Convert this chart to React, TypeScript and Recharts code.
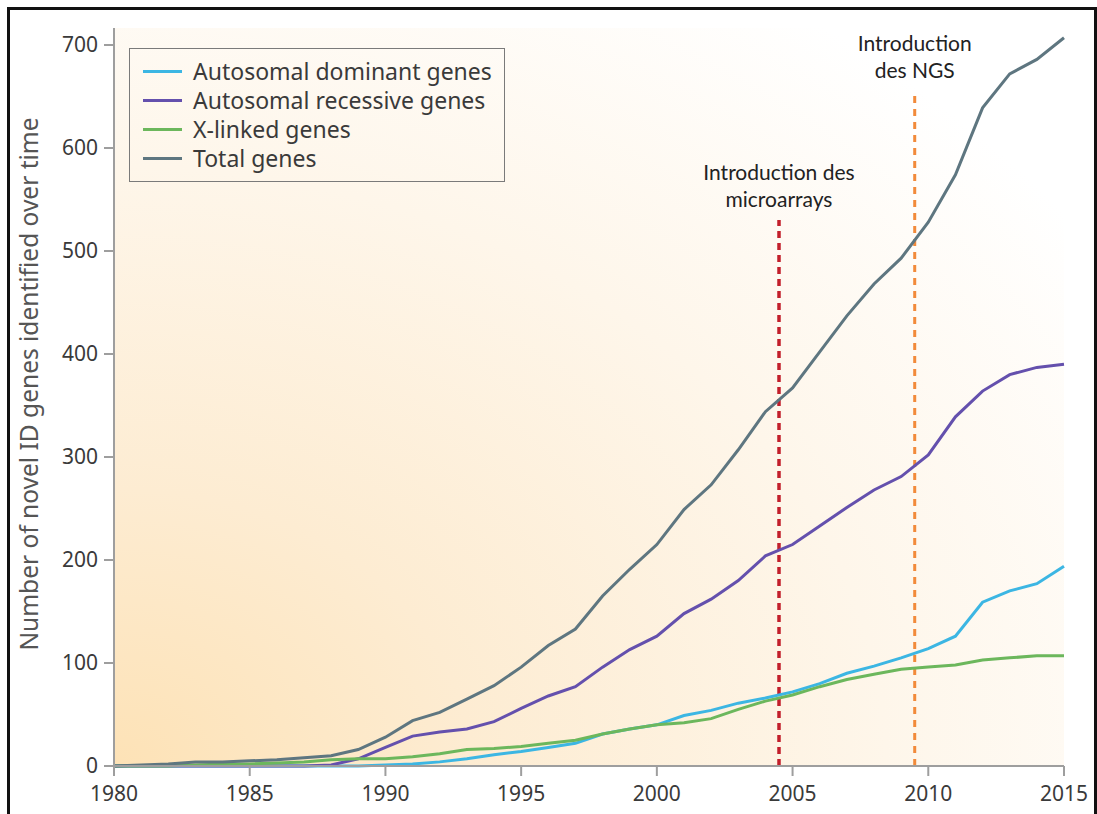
import { LineChart, Line, XAxis, YAxis, CartesianGrid, Legend, ReferenceLine } from 'recharts';

const years = [
  1980, 1981, 1982, 1983, 1984, 1985, 1986, 1987, 1988, 1989,
  1990, 1991, 1992, 1993, 1994, 1995, 1996, 1997, 1998, 1999,
  2000, 2001, 2002, 2003, 2004, 2005, 2006, 2007, 2008, 2009,
  2010, 2011, 2012, 2013, 2014, 2015,
];
const dominant = [
  0, 0, 0, 0, 0, 0, 0, 0, 0, 0,
  1, 2, 4, 7, 11, 14, 18, 22, 31, 36,
  40, 49, 54, 61, 66, 72, 80, 90, 97, 105,
  114, 126, 159, 170, 177, 194,
];
const recessive = [
  0, 0, 0, 0, 0, 0, 0, 0, 1, 7,
  18, 29, 33, 36, 43, 56, 68, 77, 96, 113,
  126, 148, 162, 180, 204, 215, 233, 251, 268, 281,
  302, 339, 364, 380, 387, 390,
];
const xlinked = [
  0, 0, 0, 1, 2, 2, 3, 4, 6, 7,
  7, 9, 12, 16, 17, 19, 22, 25, 31, 36,
  40, 42, 46, 55, 63, 69, 77, 84, 89, 94,
  96, 98, 103, 105, 107, 107,
];
const total = [
  0, 1, 2, 4, 4, 5, 6, 8, 10, 16,
  28, 44, 52, 65, 78, 96, 117, 133, 165, 191,
  215, 249, 273, 307, 344, 367, 402, 437, 468, 493,
  528, 574, 639, 672, 686, 707,
];
const xTicks = [1980, 1985, 1990, 1995, 2000, 2005, 2010, 2015];
const yTicks = [0, 100, 200, 300, 400, 500, 600, 700];

const series = [
  { key: 'dominant', name: 'Autosomal dominant genes', color: '#3cb6e3' },
  { key: 'recessive', name: 'Autosomal recessive genes', color: '#6450ad' },
  { key: 'xlinked', name: 'X-linked genes', color: '#6cb75c' },
  { key: 'total', name: 'Total genes', color: '#5e7680' },
];

const data = years.map((year, i) => ({
  year,
  dominant: dominant[i],
  recessive: recessive[i],
  xlinked: xlinked[i],
  total: total[i],
}));

const tickFont = { fontSize: 21, fill: '#3a3a3a', fontFamily: 'Noto Sans' };

function LegendBox() {
  return (
    <div
      style={{
        boxSizing: 'border-box',
        border: '1.5px solid #7a7a7a',
        padding: '8px 10px 8px 13px',
        fontFamily: 'Noto Sans',
        fontSize: 23,
        color: '#3a3a3a',
        lineHeight: '29px',
        width: 376,
        height: 134,
        textAlign: 'left',
      }}
    >
      {series.map((s) => (
        <div key={s.key} style={{ display: 'flex', alignItems: 'center' }}>
          <span style={{ display: 'inline-block', width: 39, height: 3, background: s.color, marginRight: 11 }} />
          {s.name}
        </div>
      ))}
    </div>
  );
}

function annotation(lines: string[], gap: number) {
  return (props: any) => {
    const { x, y } = props.viewBox;
    return (
      <text x={x} textAnchor="middle" fontFamily="Lato" fontSize={21} fill="#222">
        {lines.map((t, i) => (
          <tspan key={i} x={x} y={y - gap - (lines.length - 1 - i) * 27}>
            {t}
          </tspan>
        ))}
      </text>
    );
  };
}

export default function App() {
  return (
    <div style={{ position: 'absolute', left: 0, top: 0, width: 1097, height: 814, background: '#fff', overflow: 'hidden' }}>
      <div
        style={{
          position: 'absolute',
          left: 7,
          top: 7,
          width: 1084,
          height: 830,
          border: '3px solid #111',
        }}
      />
      <div style={{ position: 'absolute', left: 0, top: 0 }}>
        <LineChart width={1097} height={814} data={data} margin={{ top: 28, right: 33, left: 0, bottom: 0 }}>
          <defs>
            <radialGradient id="bgGlow" cx="0" cy="1" r="1.25">
              <stop offset="0%" stopColor="#fde2b6" />
              <stop offset="30%" stopColor="#fdecd2" />
              <stop offset="65%" stopColor="#fef6ea" />
              <stop offset="100%" stopColor="#ffffff" />
            </radialGradient>
          </defs>
          <CartesianGrid horizontal={false} vertical={false} fill="url(#bgGlow)" />
          <XAxis
            dataKey="year"
            type="number"
            domain={[1980, 2015]}
            ticks={xTicks}
            height={48}
            tickSize={10}
            tickMargin={10}
            axisLine={{ stroke: '#9e9e9e', strokeWidth: 2 }}
            tickLine={{ stroke: '#9e9e9e', strokeWidth: 2 }}
            tick={tickFont}
          />
          <YAxis
            type="number"
            domain={[0, 716.5]}
            ticks={yTicks}
            width={114}
            tickSize={10}
            tickMargin={6}
            axisLine={{ stroke: '#9e9e9e', strokeWidth: 2 }}
            tickLine={{ stroke: '#9e9e9e', strokeWidth: 2 }}
            tick={tickFont}
            label={{
              content: () => (
                <text
                  x={38}
                  y={384}
                  transform="rotate(-90 38 384)"
                  textAnchor="middle"
                  fontFamily="Noto Sans"
                  fontSize={24.5}
                  fill="#555"
                >
                  Number of novel ID genes identified over time
                </text>
              ),
            }}
          />
          <Legend
            layout="vertical"
            align="center"
            verticalAlign="middle"
            wrapperStyle={{ position: 'absolute', left: 129, top: 48, width: 376, height: 134 }}
            content={() => <LegendBox />}
          />
          <ReferenceLine
            segment={[{ x: 2004.5, y: 0 }, { x: 2004.5, y: 530 }]}
            stroke="#c21f2b"
            strokeWidth={3.5}
            strokeDasharray="7 5"
            label={annotation(['Introduction des', 'microarrays'], 13)}
          />
          <ReferenceLine
            segment={[{ x: 2009.5, y: 0 }, { x: 2009.5, y: 651 }]}
            stroke="#f28a3a"
            strokeWidth={3}
            strokeDasharray="7 6"
            label={annotation(['Introduction', 'des NGS'], 17)}
          />
          {series.map((s) => (
            <Line
              key={s.key}
              type="linear"
              dataKey={s.key}
              name={s.name}
              stroke={s.color}
              strokeWidth={3}
              dot={false}
              isAnimationActive={false}
            />
          ))}
        </LineChart>
      </div>
    </div>
  );
}
